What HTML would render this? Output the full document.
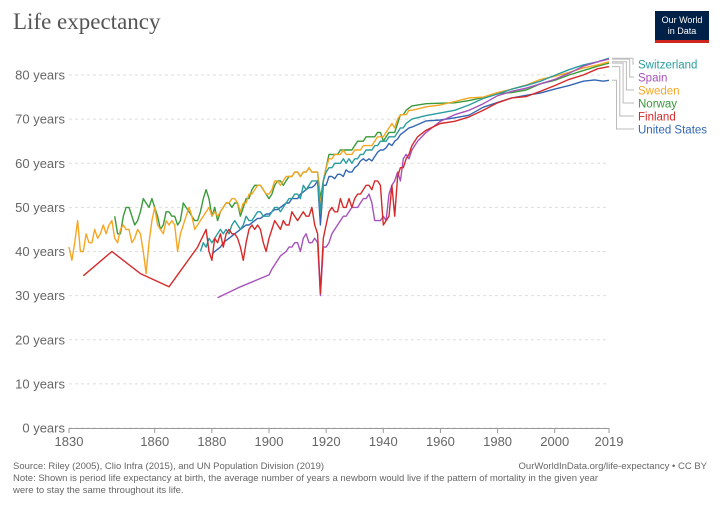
<!DOCTYPE html>
<html><head><meta charset="utf-8"><style>
body{margin:0;background:#fff;font-family:"Liberation Sans",sans-serif;}
#wrap{position:relative;width:720px;height:508px;overflow:hidden;}
</style></head><body>
<div id="wrap">
<svg id="chart" width="720" height="508" xmlns="http://www.w3.org/2000/svg">
<text x="13" y="29" font-family="Liberation Serif,serif" font-size="23" fill="#555">Life expectancy</text>
<g>
<rect x="655" y="11" width="54" height="32" fill="#002147"/>
<rect x="655" y="40" width="54" height="3" fill="#ce261e"/>
<text x="682" y="23" font-size="9" fill="#fff" text-anchor="middle">Our World</text>
<text x="682" y="34" font-size="9" fill="#fff" text-anchor="middle">in Data</text>
</g>
<g id="grid"></g><g id="lines"></g><g id="legend"></g>
<text x="13" y="469" font-size="9.5" fill="#666">Source: Riley (2005), Clio Infra (2015), and UN Population Division (2019)</text>
<text x="707" y="469" font-size="9.5" fill="#666" text-anchor="end">OurWorldInData.org/life-expectancy • CC BY</text>
<text x="13" y="481" font-size="9.5" fill="#666">Note: Shown is period life expectancy at birth, the average number of years a newborn would live if the pattern of mortality in the given year</text>
<text x="13" y="493" font-size="9.5" fill="#666">were to stay the same throughout its life.</text>
</svg></div>
<script>
const yTicks=[0,10,20,30,40,50,60,70,80];
const xTicks=[1830,1860,1880,1900,1920,1940,1960,1980,2000,2019];
const seriesNames=["Switzerland","Spain","Sweden","Norway","Finland","United States"];
const seriesColors=["#2a9d9f","#a652ba","#f5a623","#3a9a3a","#d42a2a","#3366b3"];
const swedenYears=[1830,1831,1832,1833,1834,1835,1836,1837,1838,1839,1840,1841,1842,1843,1844,1845,1846,1847,1848,1849,1850,1851,1852,1853,1854,1855,1856,1857,1858,1859,1860,1861,1862,1863,1864,1865,1866,1867,1868,1869,1870,1871,1872,1873,1874,1875,1876,1877,1878,1879,1880,1881,1882,1883,1884,1885,1886,1887,1888,1889,1890,1891,1892,1893,1894,1895,1896,1897,1898,1899,1900,1901,1902,1903,1904,1905,1906,1907,1908,1909,1910,1911,1912,1913,1914,1915,1916,1917,1918,1919,1920,1921,1922,1923,1924,1925,1926,1927,1928,1929,1930,1931,1932,1933,1934,1935,1936,1937,1938,1939,1940,1941,1942,1943,1944,1945,1946,1947,1948,1949,1950,1955,1960,1965,1970,1975,1980,1985,1990,1995,2000,2005,2010,2015,2019];
const swedenValues=[41,38,42,47,40,40,44,42,42,45,43,44,46,44,46,47,43,42,45,46,45,45,42,43,45,44,40,35,42,47,50,46,45,44,47,46,47,46,40,44,46,48,50,48,45,46,47,48,49,50,48,49,48,49,50,51,51,52,52,51,49,51,51,53,53,54,55,55,54,53,53,54,56,56,55,56,57,57,57,58,58,57,58,58,59,58,58,58,50,56,59,61,61,62,62,62,63,62,62,62,63,63,63,64,64,64,64,65,66,66,66,67,68,69,68,70,71,71,71,72,72,72.8,73.2,74,74.8,75,76,76.8,77.7,79,79.7,80.6,81.6,82.3,83];
const norwayYears=[1846,1847,1848,1849,1850,1851,1852,1853,1854,1855,1856,1857,1858,1859,1860,1861,1862,1863,1864,1865,1866,1867,1868,1869,1870,1871,1872,1873,1874,1875,1876,1877,1878,1879,1880,1881,1882,1883,1884,1885,1886,1887,1888,1889,1890,1891,1892,1893,1894,1895,1896,1897,1898,1899,1900,1901,1902,1903,1904,1905,1906,1907,1908,1909,1910,1911,1912,1913,1914,1915,1916,1917,1918,1919,1920,1921,1922,1923,1924,1925,1926,1927,1928,1929,1930,1931,1932,1933,1934,1935,1936,1937,1938,1939,1940,1941,1942,1943,1944,1945,1946,1947,1948,1949,1950,1955,1960,1965,1970,1975,1980,1985,1990,1995,2000,2005,2010,2015,2019];
const norwayValues=[48,44,44,48,50,50,48,46,47,49,52,51,50,52,50,48,45,46,49,49,48,48,46,47,51,50,49,48,47,47,49,52,54,52,48,50,47,49,50,51,51,50,51,51,48,50,52,52,54,55,55,55,54,53,52,53,55,56,56,55,56,57,57,58,58,57,58,58,59,58,58,58,52,56,59,62,62,62,62,63,63,63,63,63,64,65,65,65,66,66,66,66,67,67,65,66,67,67,67,69,71,71,72,72.5,73,73.5,73.6,73.7,74.2,74.9,75.8,76,76.6,78,78.8,80,81,82,82.7];
const finlandYears=[1835,1845,1855,1865,1875,1878,1879,1880,1881,1882,1883,1884,1885,1886,1887,1888,1889,1890,1891,1892,1893,1894,1895,1896,1897,1898,1899,1900,1901,1902,1903,1904,1905,1906,1907,1908,1909,1910,1911,1912,1913,1914,1915,1916,1917,1918,1919,1920,1921,1922,1923,1924,1925,1926,1927,1928,1929,1930,1931,1932,1933,1934,1935,1936,1937,1938,1939,1940,1941,1942,1943,1944,1945,1946,1947,1948,1949,1950,1952,1955,1960,1965,1970,1975,1980,1985,1990,1995,2000,2005,2010,2015,2019];
const finlandValues=[34.5,40,35,32,41,45,40,38,43,42,44,41,44,45,44,44,43,41,38,42,45,46,45,46,45,42,40,43,45,47,46,45,47,46,46,49,48,47,48,49,48,48,50,46,44,30.5,43,46,49,50,49,49,52,50,50,52,50,52,53,53,54,55,55,54,56,56,55,46,47,48,55,48,57,59,59,61,62,64,66,67.5,69,69.5,70.5,72,73.7,74.8,75.1,76.3,77.6,79,80,81.4,81.9];
const spainYears=[1882,1890,1900,1901,1902,1903,1904,1905,1906,1907,1908,1909,1910,1911,1912,1913,1914,1915,1916,1917,1918,1919,1920,1921,1922,1923,1924,1925,1926,1927,1928,1929,1930,1931,1932,1933,1934,1935,1936,1937,1938,1939,1940,1941,1942,1943,1944,1945,1946,1947,1948,1949,1950,1952,1955,1960,1965,1970,1975,1980,1985,1990,1995,2000,2005,2010,2015,2019];
const spainValues=[29.5,32,34.7,36,37,38,39,39.5,40,41,41,42,42,40,43,44,42,42,43,42,30,41,41,42,44,45,46,47,48,48,49,50,50,50,51,52,52,53,51,47,47,47,48,47,53,55,56,58,56,61,62,61,63,65,67,69.5,71,72,73.5,75.3,76.3,77,78,79,80.4,82,83,83.6];
const usYears=[1880,1881,1882,1883,1884,1885,1886,1887,1888,1889,1890,1891,1892,1893,1894,1895,1896,1897,1898,1899,1900,1901,1902,1903,1904,1905,1906,1907,1908,1909,1910,1911,1912,1913,1914,1915,1916,1917,1918,1919,1920,1921,1922,1923,1924,1925,1926,1927,1928,1929,1930,1931,1932,1933,1934,1935,1936,1937,1938,1939,1940,1941,1942,1943,1944,1945,1946,1947,1948,1949,1950,1955,1960,1965,1970,1975,1980,1985,1990,1995,2000,2005,2010,2014,2017,2019];
const usValues=[39.4,40,40.5,41,42,42.5,43,43.5,44,44.5,45,45.5,46,46,46.5,47,47.5,47.5,48,48.5,48.5,49,49.5,49.5,50,50.5,51,51,52,52,52,53,53.5,54,54.5,54.5,55,56,46,55,55,57,57,56.5,57.5,57.5,57,58.5,58,58,59,59.5,60.5,61,60.5,61,60.5,61.5,62.5,63,63,63.5,64.5,64,65,65.5,66.5,67,67.5,68,68.2,69.6,69.8,70.3,70.9,72.7,73.8,74.8,75.4,75.9,76.8,77.6,78.6,78.9,78.6,78.8];
const swissYears=[1876,1877,1878,1879,1880,1881,1882,1883,1884,1885,1886,1887,1888,1889,1890,1891,1892,1893,1894,1895,1896,1897,1898,1899,1900,1901,1902,1903,1904,1905,1906,1907,1908,1909,1910,1911,1912,1913,1914,1915,1916,1917,1918,1919,1920,1921,1922,1923,1924,1925,1926,1927,1928,1929,1930,1931,1932,1933,1934,1935,1936,1937,1938,1939,1940,1941,1942,1943,1944,1945,1946,1947,1948,1949,1950,1955,1960,1965,1970,1975,1980,1985,1990,1995,2000,2005,2010,2015,2019];
const swissValues=[40,42,41,43,42,43,44,45,44,45,44,46,47,46,45,46,48,47,47,48,49,49,48,48,48,49,50,50,49,50,51,52,52,53,53,52,55,54,55,56,56,56,49,56,58,59,59,60,60,60,61,60,61,60,61,61,62,62,63,63,63,64,64,65,65,65,66,66,66,67,68,68,69,69.5,70,70.8,71.4,72,73.2,74.7,75.7,76.8,77.6,78.6,79.9,81.2,82.3,83,83.8];

const NS="http://www.w3.org/2000/svg";
const x0=69,x1=609,y0=428,y80=75;
function xs(v){return x0+(v-1830)*(x1-x0)/(2019-1830);}
function ys(v){return y0-v*(y0-y80)/80;}
function mk(t,a,p){const e=document.createElementNS(NS,t);for(const k in a)e.setAttribute(k,a[k]);p.appendChild(e);return e;}
const grid=document.getElementById('grid');
yTicks.forEach(t=>{
  const l=mk('line',{x1:x0,x2:x1,y1:ys(t),y2:ys(t),stroke:'#ddd','stroke-dasharray':'3,3'},grid);
  
  
  const tx=mk('text',{x:65,y:ys(t)+4.5,'font-size':13,fill:'#666','text-anchor':'end'},grid);
  tx.textContent=t+' years';
  
  
});
const ax=mk('line',{x1:x0,x2:x1,y1:y0+0.5,y2:y0+0.5,stroke:'#999'},grid);


xTicks.forEach(t=>{
  mk('line',{x1:xs(t),x2:xs(t),y1:y0,y2:y0+5,stroke:'#999'},grid);
  const tx=mk('text',{x:xs(t),y:446,'font-size':13,fill:'#666','text-anchor':'middle'},grid);
  tx.textContent=t;
  
  
});
const data=[[swissYears,swissValues],[spainYears,spainValues],[swedenYears,swedenValues],[norwayYears,norwayValues],[finlandYears,finlandValues],[usYears,usValues]];
const lines=document.getElementById('lines'),leg=document.getElementById('legend');
const order=[3,2,5,0,1,4];
order.forEach(i=>{
  const [yr,vl]=data[i];
  const pts=yr.map((y,j)=>xs(y).toFixed(1)+','+ys(vl[j]).toFixed(1)).join(' ');
  const p=mk('polyline',{points:pts,fill:'none',stroke:seriesColors[i],'stroke-width':1.4,'stroke-linejoin':'round'},lines);
  
  
});
seriesNames.forEach((n,i)=>{
  const [yr,vl]=data[i];
  const ey=ys(vl[vl.length-1]);const ly=64+i*13;const kx=633-i*3.3;
  const c=mk('polyline',{points:`${xs(yr[yr.length-1])+3},${ey} ${kx},${ey} ${kx},${ly} 634,${ly}`,fill:'none',stroke:'#bbb','stroke-width':1},leg);
  
  
  const t=mk('text',{x:638,y:ly+4.5,'font-size':11.5,fill:seriesColors[i]},leg);
  t.textContent=n;
  
  
});
</script>
</body></html>
